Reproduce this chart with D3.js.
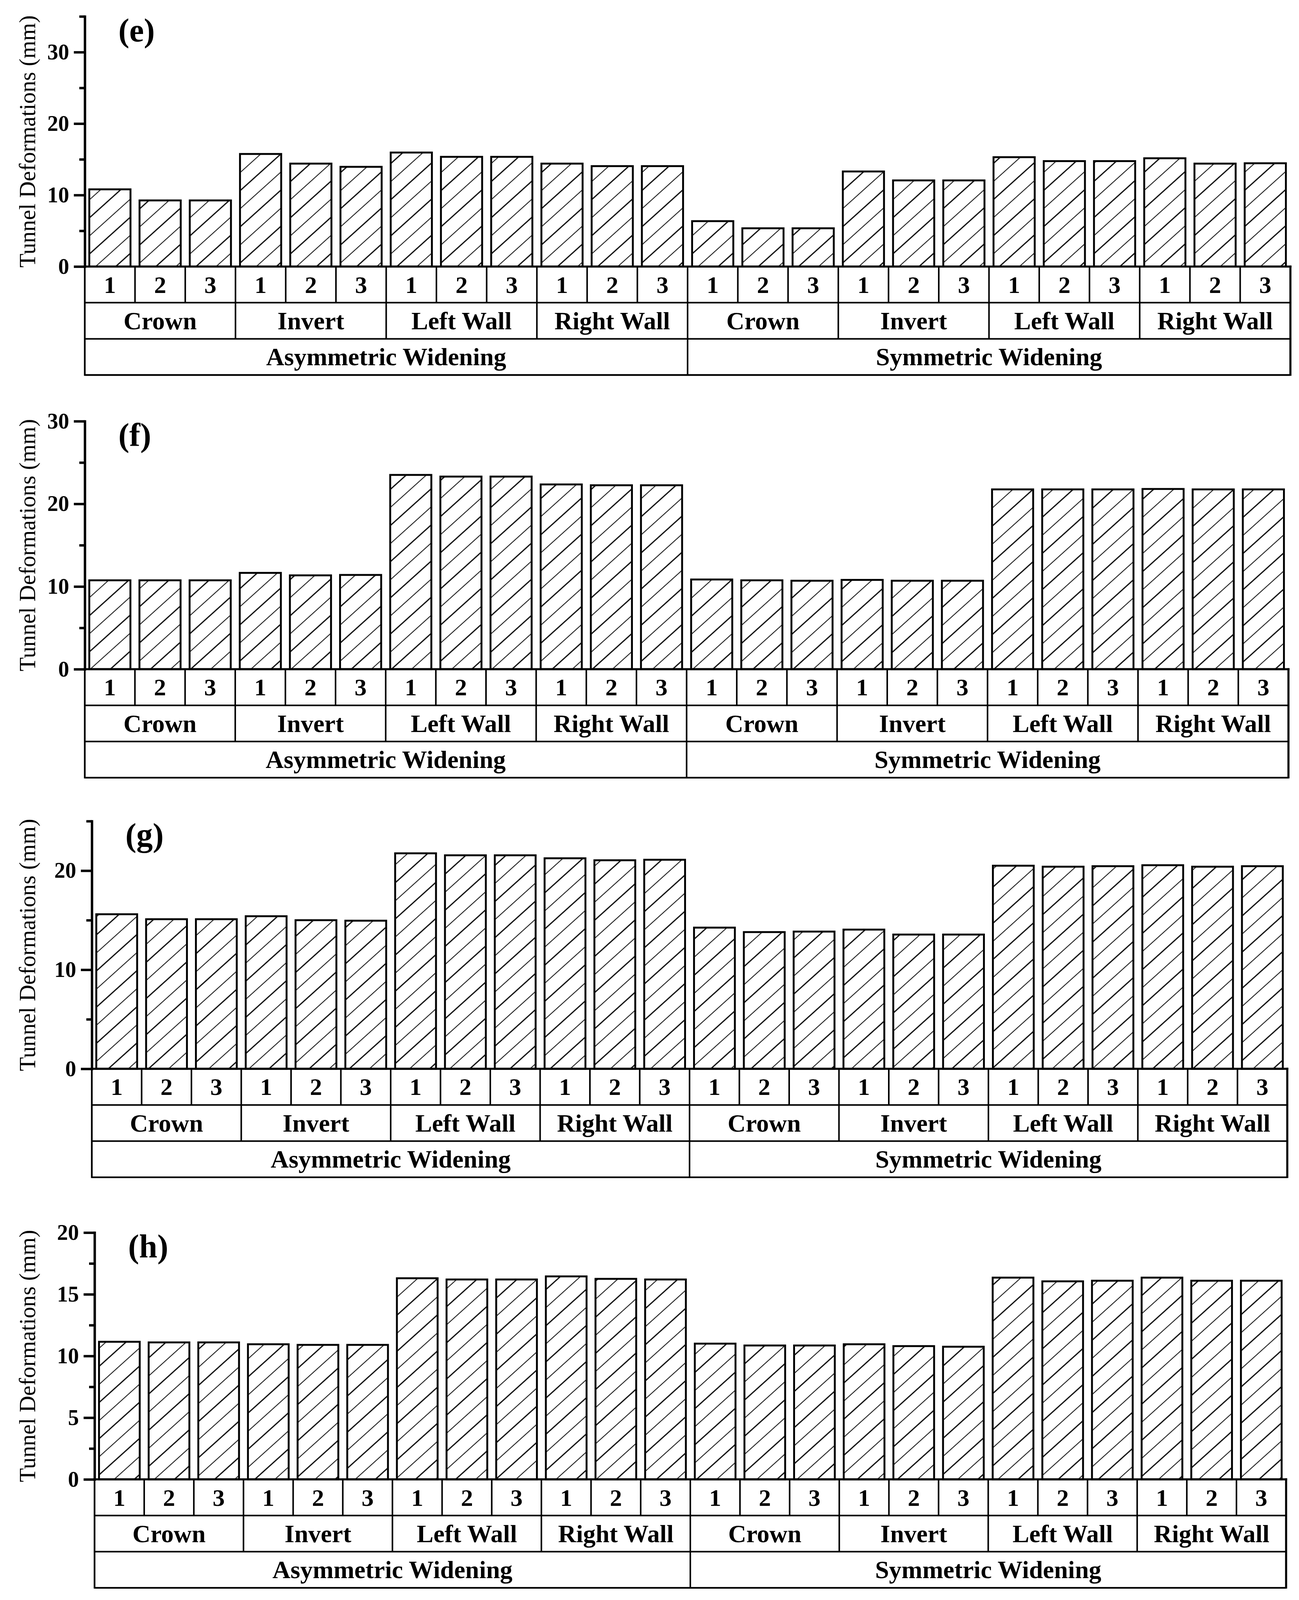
<!DOCTYPE html>
<html>
<head>
<meta charset="utf-8">
<script src="https://cdn.jsdelivr.net/npm/d3@7"></script>
<style>
  html, body { margin: 0; padding: 0; background: #fff; overflow: hidden; }
  svg { display: block; }
</style>
</head>
<body>
<script>
// ---------------- DATA ----------------
const positions = ["1", "2", "3"];
const locations = ["Crown", "Invert", "Left Wall", "Right Wall"];
const schemes = ["Asymmetric Widening", "Symmetric Widening"];
const panelLabels = ["(e)", "(f)", "(g)", "(h)"];
const yTitle = "Tunnel Deformations (mm)";

// values (mm), order: Crown 1-3, Invert 1-3, Left Wall 1-3, Right Wall 1-3
const eAsym = [10.8, 9.25, 9.25, 15.75, 14.4, 13.95, 15.95, 15.35, 15.35, 14.4, 14.05, 14.05];
const eSym  = [6.35, 5.35, 5.35, 13.3, 12.05, 12.05, 15.3, 14.75, 14.75, 15.15, 14.4, 14.45];
const fAsym = [10.75, 10.75, 10.75, 11.65, 11.35, 11.4, 23.5, 23.3, 23.3, 22.35, 22.25, 22.25];
const fSym  = [10.85, 10.75, 10.7, 10.8, 10.7, 10.7, 21.75, 21.75, 21.75, 21.8, 21.75, 21.75];
const gAsym = [15.6, 15.1, 15.1, 15.4, 15.0, 14.95, 21.75, 21.55, 21.55, 21.25, 21.05, 21.1];
const gSym  = [14.25, 13.8, 13.85, 14.05, 13.55, 13.55, 20.5, 20.4, 20.45, 20.55, 20.4, 20.45];
const hAsym = [11.15, 11.1, 11.1, 10.95, 10.9, 10.9, 16.3, 16.2, 16.2, 16.45, 16.25, 16.2];
const hSym  = [11.0, 10.85, 10.85, 10.95, 10.8, 10.75, 16.35, 16.05, 16.1, 16.35, 16.1, 16.1];

// axis extents and tick values
const yMaxE = 35, yMaxF = 30, yMaxG = 25, yMaxH = 20;
const majorTicksE = [0, 10, 20, 30], minorTicksE = [5, 15, 25, 35];
const majorTicksF = [0, 10, 20, 30], minorTicksF = [5, 15, 25];
const majorTicksG = [0, 10, 20],     minorTicksG = [5, 15, 25];
const majorTicksH = [0, 5, 10, 15, 20], minorTicksH = [2.5, 7.5, 12.5, 17.5];

// ---------------- LAYOUT ----------------
// layout is designed on a 3325 x 5265 frame, then fitted to the real viewport
const W = 3325, H = 5265;
const VW = window.innerWidth || W, VH = window.innerHeight || H;
const sx = VW / W, sy = VH / H;
const fs = Math.sqrt(sx * sy);          // scale for strokes
const tf = Math.min(sx, sy * 1.3);      // scale for fonts
const px = v => v * sx, py = v => v * sy;

const FONT = "'Liberation Serif', 'DejaVu Serif', serif";
const panels = [
  { label: panelLabels[0], asym: eAsym, sym: eSym, max: yMaxE, major: majorTicksE, minor: minorTicksE, left: 217, right: 3303, zero: 877,  top: 54 },
  { label: panelLabels[1], asym: fAsym, sym: fSym, max: yMaxF, major: majorTicksF, minor: minorTicksF, left: 217, right: 3298, zero: 2202, top: 1386 },
  { label: panelLabels[2], asym: gAsym, sym: gSym, max: yMaxG, major: majorTicksG, minor: minorTicksG, left: 235, right: 3295, zero: 3517, top: 2702 },
  { label: panelLabels[3], asym: hAsym, sym: hSym, max: yMaxH, major: majorTicksH, minor: minorTicksH, left: 242, right: 3292, zero: 4868, top: 4056 }
];
const ROW = 119;

const svg = d3.select("body").append("svg")
  .attr("width", VW).attr("height", VH);

svg.append("rect").attr("width", VW).attr("height", VH).attr("fill", "#fff");

// hatch pattern
const hp = 78 * fs;
const defs = svg.append("defs");
const pat = defs.append("pattern")
  .attr("id", "hatch")
  .attr("patternUnits", "userSpaceOnUse")
  .attr("width", hp).attr("height", hp)
  .attr("patternTransform", "rotate(-42)");
pat.append("rect").attr("width", hp).attr("height", hp).attr("fill", "#fff");
pat.append("line").attr("x1", 0).attr("x2", hp).attr("y1", hp * 0.25).attr("y2", hp * 0.25)
  .attr("stroke", "#000").attr("stroke-width", 3.2 * fs);
pat.append("line").attr("x1", 0).attr("x2", hp).attr("y1", hp * 0.75).attr("y2", hp * 0.75)
  .attr("stroke", "#000").attr("stroke-width", 2.1 * fs);

panels.forEach(p => {
  const g = svg.append("g");
  const values = p.asym.concat(p.sym);
  const idx = d3.range(values.length);
  const L = px(p.left), R = px(p.right);

  const x = d3.scaleBand().domain(idx).range([L, R])
    .paddingInner(0.18).paddingOuter(0.09);
  const cell = (R - L) / values.length;
  const y = d3.scaleLinear().domain([0, p.max]).range([py(p.zero), py(p.top)]);

  // bars
  g.selectAll("rect.bar").data(values).join("rect")
    .attr("class", "bar")
    .attr("x", (d, i) => x(i))
    .attr("width", x.bandwidth())
    .attr("y", d => y(d))
    .attr("height", d => y(0) - y(d))
    .attr("fill", "url(#hatch)")
    .attr("stroke", "#000")
    .attr("stroke-width", 5.5 * fs);

  // y axis with major ticks
  const ax = g.append("g")
    .attr("transform", `translate(${L},0)`)
    .call(d3.axisLeft(y).tickValues(p.major).tickSize(28 * sx).tickSizeOuter(0)
      .tickPadding(12 * sx).tickFormat(d3.format("d")));
  ax.select(".domain").attr("stroke-width", 7 * fs).attr("stroke-linecap", "square");
  ax.selectAll(".tick line").attr("stroke-width", 7 * fs);
  ax.selectAll(".tick text")
    .attr("font-family", FONT).attr("font-weight", "bold")
    .attr("font-size", 56 * tf).attr("fill", "#000");

  // minor ticks
  const mx = g.append("g")
    .attr("transform", `translate(${L},0)`)
    .call(d3.axisLeft(y).tickValues(p.minor).tickSize(14 * sx).tickSizeOuter(0).tickFormat(""));
  mx.select(".domain").remove();
  mx.selectAll(".tick line").attr("stroke-width", 7 * fs);

  // y title
  g.append("text")
    .attr("transform", `translate(${px(90)},${py((p.zero + p.top) / 2)}) rotate(-90)`)
    .attr("text-anchor", "middle")
    .attr("font-family", FONT).attr("font-size", 60 * tf)
    .attr("textLength", py(830)).attr("lengthAdjust", "spacingAndGlyphs")
    .text(yTitle);

  // panel label
  g.append("text")
    .attr("x", px(p.left + 86)).attr("y", py(p.top + 82))
    .attr("font-family", FONT).attr("font-weight", "bold").attr("font-size", 84 * tf)
    .text(p.label);

  // ------- category table -------
  const t = g.append("g").attr("stroke", "#000").attr("fill", "none");
  const r1 = py(p.zero), r2 = py(p.zero + ROW), r3 = py(p.zero + 2 * ROW), r4 = py(p.zero + 3 * ROW);
  const sw = 4.5 * fs;

  [r2, r3].forEach(yy => t.append("line").attr("x1", L).attr("x2", R)
    .attr("y1", yy).attr("y2", yy).attr("stroke-width", sw));
  t.append("line").attr("x1", L).attr("x2", R).attr("y1", r4).attr("y2", r4)
    .attr("stroke-width", sw * 1.1);
  t.append("line").attr("x1", L - 3 * fs).attr("x2", R + 3 * fs).attr("y1", r1).attr("y2", r1)
    .attr("stroke-width", 6 * fs);
  t.append("line").attr("x1", L).attr("x2", L).attr("y1", r1).attr("y2", r4 + sw / 2)
    .attr("stroke-width", sw * 1.1);
  t.append("line").attr("x1", R).attr("x2", R).attr("y1", r1 - 3 * fs).attr("y2", r4 + sw / 2)
    .attr("stroke-width", 6 * fs);
  d3.range(1, values.length).forEach(i => t.append("line")
    .attr("x1", L + i * cell).attr("x2", L + i * cell)
    .attr("y1", r1).attr("y2", r2).attr("stroke-width", sw));
  d3.range(1, values.length / 3).forEach(i => t.append("line")
    .attr("x1", L + i * 3 * cell).attr("x2", L + i * 3 * cell)
    .attr("y1", r2).attr("y2", r3).attr("stroke-width", sw));
  t.append("line").attr("x1", L + 12 * cell).attr("x2", L + 12 * cell)
    .attr("y1", r3).attr("y2", r4).attr("stroke-width", sw);

  const numFs = 62 * tf, catFs = 64 * tf;

  g.selectAll("text.num").data(idx).join("text")
    .attr("class", "num")
    .attr("x", i => L + (i + 0.5) * cell)
    .attr("y", (r1 + r2) / 2 + numFs * 0.34)
    .attr("text-anchor", "middle")
    .attr("font-family", FONT).attr("font-weight", "bold").attr("font-size", numFs)
    .text(i => positions[i % 3]);

  g.selectAll("text.loc").data(d3.range(8)).join("text")
    .attr("class", "loc")
    .attr("x", k => L + (k * 3 + 1.5) * cell)
    .attr("y", (r2 + r3) / 2 + catFs * 0.34)
    .attr("text-anchor", "middle")
    .attr("font-family", FONT).attr("font-weight", "bold").attr("font-size", catFs)
    .text(k => locations[k % 4]);

  g.selectAll("text.sch").data(schemes).join("text")
    .attr("class", "sch")
    .attr("x", (d, k) => L + (k * 12 + 6) * cell)
    .attr("y", (r3 + r4) / 2 + catFs * 0.34)
    .attr("text-anchor", "middle")
    .attr("font-family", FONT).attr("font-weight", "bold").attr("font-size", catFs)
    .text(d => d);
});
</script>
</body>
</html>
